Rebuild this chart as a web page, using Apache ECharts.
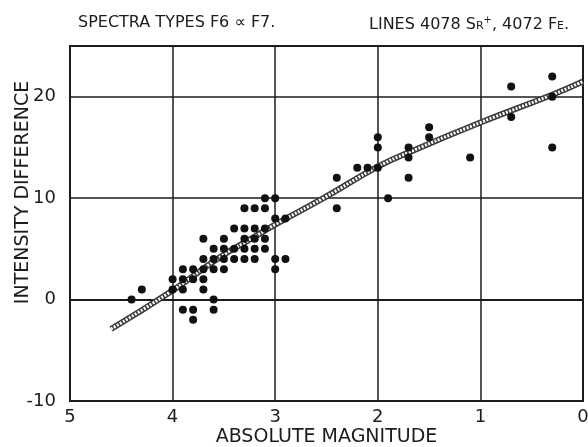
<!DOCTYPE html>
<html>
<head>
<meta charset="utf-8">
<script src="https://cdn.jsdelivr.net/npm/echarts@6/dist/echarts.min.js"></script>
<style>
  html, body { margin: 0; padding: 0; background: #fff; }
  #chart { width: 588px; height: 447px; }
</style>
</head>
<body>
<div id="chart"></div>
<script>
// stars: absolute magnitude / intensity difference
var magnitude = [
  4.4, 4.3,
  4.0, 4.0,
  3.9, 3.9, 3.9, 3.9,
  3.8, 3.8, 3.8, 3.8,
  3.7, 3.7, 3.7, 3.7, 3.7,
  3.6, 3.6, 3.6, 3.6, 3.6,
  3.5, 3.5, 3.5, 3.5,
  3.4, 3.4, 3.4,
  3.3, 3.3, 3.3, 3.3, 3.3,
  3.2, 3.2, 3.2, 3.2, 3.2,
  3.1, 3.1, 3.1, 3.1, 3.1,
  3.0, 3.0, 3.0, 3.0,
  2.9, 2.9,
  2.4, 2.4,
  2.2, 2.1,
  2.0, 2.0, 2.0,
  1.9,
  1.7, 1.7, 1.7,
  1.5, 1.5,
  1.1,
  0.7, 0.7,
  0.3, 0.3, 0.3
];
var intensity = [
  0, 1,
  2, 1,
  3, 2, 1, -1,
  3, 2, -1, -2,
  6, 4, 3, 2, 1,
  5, 4, 3, 0, -1,
  6, 5, 4, 3,
  7, 5, 4,
  9, 7, 6, 5, 4,
  9, 7, 6, 5, 4,
  10, 9, 7, 6, 5,
  10, 8, 4, 3,
  8, 4,
  12, 9,
  13, 13,
  16, 15, 13,
  10,
  15, 14, 12,
  17, 16,
  14,
  21, 18,
  22, 20, 15
];

// hand drawn mean curve
var curveMag = [4.6, 4.0, 3.55, 3.2, 3.0, 2.53, 2.0, 1.7, 1.0, 0.3, 0.0];
var curveInt = [-2.9, 0.9, 4.1, 6.2, 7.4, 10.0, 13.1, 14.5, 17.45, 20.2, 21.5];

var xTicks = [0, 1, 2, 3, 4, 5];
var yTicks = [-10, 0, 10, 20];

var points = magnitude.map(function (m, i) { return [m, intensity[i]]; });
var curve = curveMag.map(function (m, i) { return [m, curveInt[i]]; });

var ink = '#1c1c1c';
var font = 'DejaVu Sans';

var myChart = echarts.init(document.getElementById('chart'));
var option = {
  backgroundColor: '#fff',
  animation: false,
  title: [
    {
      text: 'SPECTRA TYPES F6 \u221D F7.',
      left: 73, top: 10,
      textStyle: { fontFamily: font, fontSize: 16, fontWeight: 'normal', color: ink }
    },
    {
      text: 'LINES 4078 S{sm|R}{sup|+}, 4072 F{sm|E}.',
      left: 364, top: 10,
      textStyle: {
        fontFamily: font, fontSize: 16, fontWeight: 'normal', color: ink,
        rich: {
          sm: { fontFamily: font, fontSize: 11, color: ink, padding: [3, 0, 0, 0] },
          sup: { fontFamily: font, fontSize: 10, color: ink, padding: [0, 0, 9, 0] }
        }
      }
    }
  ],
  grid: {
    left: 70, right: 5, top: 46, bottom: 46,
    containLabel: false,
    outerBoundsMode: 'none',
    show: true, borderColor: ink, borderWidth: 2
  },
  xAxis: {
    type: 'value',
    inverse: true,
    min: 0, max: 5, interval: 1,
    name: 'ABSOLUTE MAGNITUDE',
    nameLocation: 'middle',
    nameGap: 27,
    nameMoveOverlap: false,
    nameTextStyle: { fontFamily: font, fontSize: 19, color: ink },
    axisLine: { lineStyle: { color: ink, width: 2 } },
    axisTick: { show: false },
    axisLabel: {
      margin: 7, fontFamily: font, fontSize: 18, color: ink,
      formatter: function (v) { return xTicks.indexOf(v) >= 0 ? String(v) : ''; }
    },
    splitLine: { lineStyle: { color: ink, width: 1.5 } }
  },
  yAxis: {
    type: 'value',
    min: -10, max: 25, interval: 10,
    name: 'INTENSITY DIFFERENCE',
    nameLocation: 'middle',
    nameGap: 37,
    nameMoveOverlap: false,
    nameTextStyle: { fontFamily: font, fontSize: 19, color: ink, padding: [0, 0, 0, 62] },
    axisLine: { lineStyle: { color: ink, width: 2 } },
    axisTick: { show: false },
    axisLabel: {
      margin: 14, fontFamily: font, fontSize: 18, color: ink,
      formatter: function (v) { return yTicks.indexOf(v) >= 0 ? String(v) : ''; }
    },
    splitLine: { lineStyle: { color: ink, width: 1.5 } }
  },
  series: [
    {
      // rope-like outline of the curve
      type: 'line',
      data: curve,
      smooth: true,
      symbol: 'none',
      z: 2,
      lineStyle: { color: '#3a3a3a', width: 6 }
    },
    {
      type: 'line',
      data: curve,
      smooth: true,
      symbol: 'none',
      z: 3,
      lineStyle: { color: '#fff', width: 3, type: [2, 1.5] }
    },
    {
      type: 'scatter',
      data: points,
      symbol: 'circle',
      symbolSize: 8,
      z: 4,
      itemStyle: { color: '#111', opacity: 1 }
    }
  ]
};
myChart.setOption(option);
</script>
</body>
</html>
